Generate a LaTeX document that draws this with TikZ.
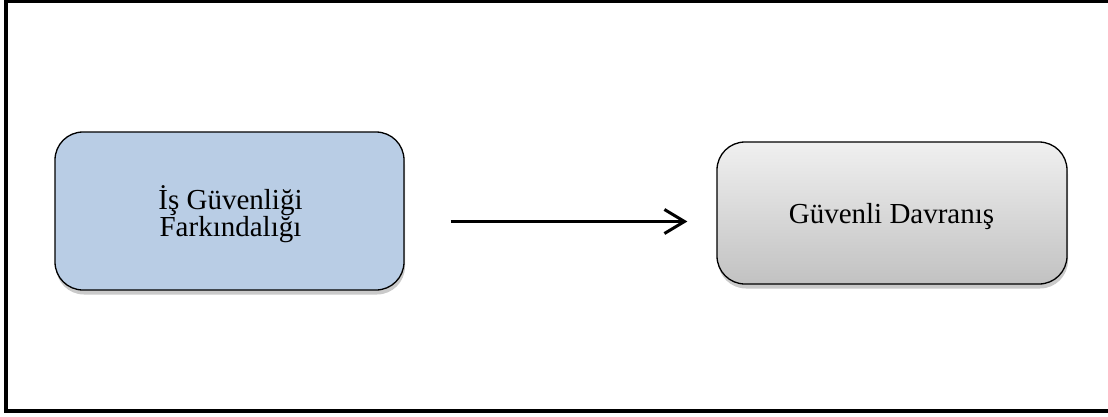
\documentclass[tikz,border=0pt]{standalone}
\usepackage{fontspec}
\setmainfont{Liberation Serif}
\usetikzlibrary{arrows.meta,shadows}
\definecolor{boxblue}{HTML}{B9CDE5}
\tikzset{
  roundbox/.style={draw=black, line width=1.3pt, rounded corners=28pt, inner sep=0pt,
    drop shadow={shadow xshift=1pt, shadow yshift=-4.5pt, opacity=0.35, fill=black!60}},
  boxtext/.style={align=center, inner sep=0pt, font=\fontsize{29}{27}\selectfont},
  frame/.style={draw=black, line width=4.5pt},
  flow/.style={line width=3pt, -{Straight Barb[length=20pt,width=24pt,line width=3pt]}}
}
\begin{document}
\begin{tikzpicture}[x=1pt,y=-1pt]
\useasboundingbox (0,0) rectangle (1108,416);
\draw[frame] (6,0.5) rectangle (1115,411);
\node[roundbox, fill=boxblue, minimum width=349pt, minimum height=158pt] (b1) at (229.5,211) {};
\node[boxtext, anchor=base] (t1) at (230.5,236) {İş Güvenliği\\Farkındalığı};
\node[roundbox, top color=black!6, bottom color=black!24, minimum width=350pt, minimum height=142pt] (b2) at (892,213) {};
\node[boxtext, anchor=base] (t2) at (891.5,223) {Güvenli Davranış};
\coordinate (a1) at ([xshift=46pt, yshift=-10.5pt]b1.east);
\coordinate (a2) at ([xshift=-29pt, yshift=-8.5pt]b2.west);
\draw[flow] (a1) -- (a2);
\end{tikzpicture}
\end{document}
